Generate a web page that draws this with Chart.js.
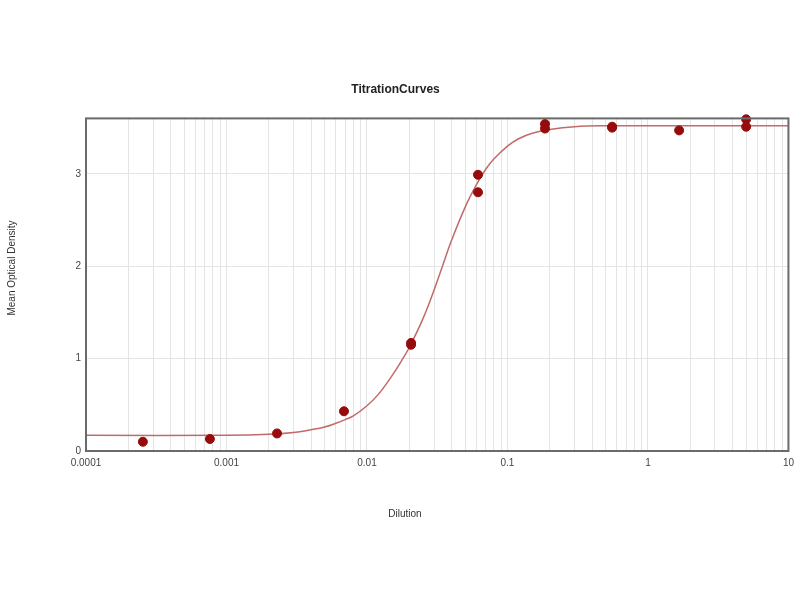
<!DOCTYPE html>
<html lang="en">
<head>
<meta charset="UTF-8" />
<title>TitrationCurves</title>
<script src="https://cdn.jsdelivr.net/npm/chart.js@4.4.1/dist/chart.umd.min.js"></script>
<style>
  html, body { margin: 0; padding: 0; background: #fff; }
  #chart { display: block; }
</style>
</head>
<body>
<canvas id="chart" width="800" height="600"></canvas>
<script>
// measured wells (dilution, mean OD)
const dilution = [0.000254, 0.000762, 0.00229, 0.00686, 0.0206, 0.0206, 0.0617, 0.0617, 0.185, 0.185, 0.556, 0.556, 1.667, 5, 5];
const meanOD   = [0.10, 0.13, 0.19, 0.43, 1.15, 1.17, 2.99, 2.80, 3.54, 3.49, 3.51, 3.50, 3.47, 3.59, 3.51];

// fitted curve
const fitDilution = [0.0001, 0.001, 0.002, 0.003, 0.004, 0.005, 0.006, 0.007, 0.008, 0.01, 0.012, 0.015, 0.018, 0.02, 0.025, 0.03, 0.035, 0.04, 0.05, 0.06, 0.07, 0.08, 0.1, 0.12, 0.15, 0.2, 0.3, 0.5, 1, 10];
const fitOD       = [0.17, 0.17, 0.18, 0.20, 0.23, 0.26, 0.30, 0.34, 0.38, 0.49, 0.61, 0.81, 1.00, 1.12, 1.43, 1.74, 2.03, 2.28, 2.64, 2.88, 3.05, 3.16, 3.30, 3.38, 3.44, 3.48, 3.51, 3.52, 3.52, 3.52];

const yTickValues = [0, 1, 2, 3];
const xTickLabels = ['0.0001', '0.001', '0.01', '0.1', '1', '10'];

const chartTitle = 'TitrationCurves';
const xTitle = 'Dilution';
const yTitle = 'Mean Optical Density';

const FONT = '"Liberation Sans", Arial, sans-serif';

// dark frame round the plot area + axis titles
const framePlugin = {
  id: 'frame',
  afterDraw(chart) {
    const { ctx, chartArea: a } = chart;
    ctx.save();
    ctx.strokeStyle = '#6a6a6a';
    ctx.lineWidth = 2;
    ctx.strokeRect(a.left, a.top, a.right - a.left, a.bottom - a.top);

    ctx.fillStyle = '#333';
    ctx.font = '10px ' + FONT;
    ctx.textAlign = 'center';
    ctx.textBaseline = 'middle';
    ctx.fillText(xTitle, 405, 514);
    ctx.translate(12, 268);
    ctx.rotate(-Math.PI / 2);
    ctx.fillText(yTitle, 0, 0);
    ctx.restore();
  }
};

const points = dilution.map((d, i) => ({ x: d, y: meanOD[i] }));
const curve = fitDilution.map((d, i) => ({ x: d, y: fitOD[i] }));

new Chart(document.getElementById('chart'), {
  type: 'scatter',
  data: {
    datasets: [
      {
        label: 'Measured',
        data: points,
        order: 0,
        showLine: false,
        pointRadius: 4.5,
        pointHoverRadius: 4.5,
        backgroundColor: '#960c0c',
        borderColor: '#960c0c',
        clip: false
      },
      {
        label: 'Fit',
        data: curve,
        order: 1,
        showLine: true,
        pointRadius: 0,
        borderColor: '#c26a6a',
        borderWidth: 1.5,
        tension: 0.4,
        fill: false
      }
    ]
  },
  options: {
    responsive: false,
    animation: false,
    layout: { padding: { left: 0, right: 9, top: 0, bottom: 0 } },
    plugins: {
      legend: { display: false },
      tooltip: { enabled: false },
      title: {
        display: true,
        text: chartTitle,
        color: '#222',
        font: { family: FONT, size: 12, weight: 'bold' },
        padding: { top: 82, bottom: 22 }
      }
    },
    scales: {
      x: {
        type: 'logarithmic',
        min: 0.0001,
        max: 10,
        afterFit(scale) { scale.height = 149; },
        afterBuildTicks(scale) {
          // keep 1..9 per decade only
          scale.ticks = scale.ticks.filter(t => {
            const m = t.value / Math.pow(10, Math.floor(Math.log10(t.value) + 1e-9));
            return Math.abs(m - Math.round(m)) < 1e-6;
          });
        },
        grid: { color: '#e4e4e4', lineWidth: 1, drawTicks: false },
        border: { display: false },
        ticks: {
          autoSkip: false,
          maxRotation: 0,
          padding: 6,
          color: '#444',
          font: { family: FONT, size: 10 },
          callback(v) {
            const e = Math.log10(v);
            if (Math.abs(e - Math.round(e)) < 1e-6) return xTickLabels[Math.round(e) + 4];
            return '';
          }
        }
      },
      y: {
        min: 0,
        max: 3.6,
        afterFit(scale) { scale.width = 86; },
        grid: { color: '#e4e4e4', lineWidth: 1, drawTicks: false },
        border: { display: false },
        ticks: {
          stepSize: 1,
          includeBounds: false,
          padding: 5,
          color: '#444',
          font: { family: FONT, size: 10 },
          callback(v) { return yTickValues.includes(v) ? String(v) : ''; }
        }
      }
    }
  },
  plugins: [framePlugin]
});
</script>
</body>
</html>
